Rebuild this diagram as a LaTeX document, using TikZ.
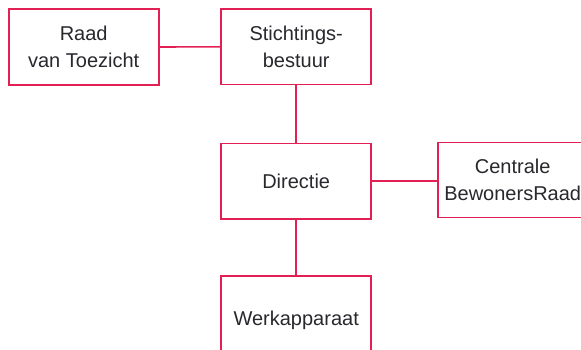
\documentclass[tikz,border=0pt]{standalone}
\usepackage{fontspec}
\setmainfont{Liberation Sans}
\definecolor{orgline}{RGB}{226,32,84}
\definecolor{orgtext}{RGB}{40,40,45}
\begin{document}
\begin{tikzpicture}[x=1pt,y=1pt,
  orgbox/.style={draw=orgline, line width=1.6pt, fill=white, minimum width=150pt,
    inner sep=0pt, align=center, text=orgtext,
    font=\fontsize{20}{26.5}\selectfont},
  orglink/.style={draw=orgline, line width=1.6pt}]
\useasboundingbox (0,0) rectangle (581,-349);
\node[orgbox, minimum height=76pt] (raad) at (83.7,-47) {Raad\\van Toezicht};
\node[orgbox, minimum height=75.5pt] (bestuur) at (296.2,-46.8) {Stichtings-\\bestuur};
\node[orgbox, minimum height=75.7pt] (dir) at (296.2,-181.2) {Directie};
\node[orgbox, minimum height=75pt] (cbr) at (512.7,-179.8) {Centrale\\BewonersRaad};
\node[orgbox, minimum height=90pt] (werk) at (296.2,-320.7) {Werkapparaat};
\draw[orglink] (raad.east) -- (bestuur.west);
\draw[orglink] (bestuur.south) -- (dir.north);
\draw[orglink] (dir.east) -- (dir.east -| cbr.west);
\draw[orglink] (dir.south) -- (werk.north);
\end{tikzpicture}
\end{document}
